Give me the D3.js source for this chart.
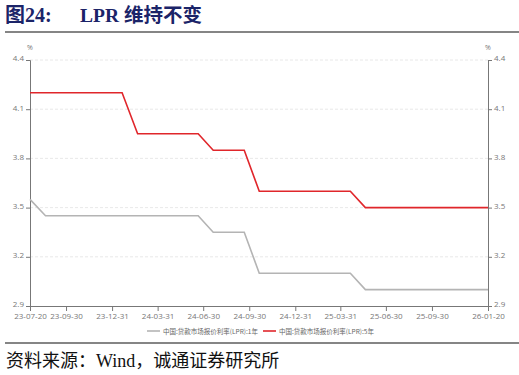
<!DOCTYPE html>
<html>
<head>
<meta charset="utf-8">
<script src="https://cdn.jsdelivr.net/npm/d3@7"></script>
<style>
  body { margin: 0; background: #fff; }
  svg { display: block; }
  .tick text { font-family: "Open Sans", "Noto Sans CJK SC", sans-serif; }
</style>
</head>
<body>
<svg id="chart" width="519" height="375"></svg>
<script>
// monthly fixing dates (20th) and LPR values
const dates = ["2023-07-20","2023-08-20","2023-09-20","2023-10-20","2023-11-20","2023-12-20",
  "2024-01-20","2024-02-20","2024-03-20","2024-04-20","2024-05-20","2024-06-20",
  "2024-07-20","2024-08-20","2024-09-20","2024-10-20","2024-11-20","2024-12-20",
  "2025-01-20","2025-02-20","2025-03-20","2025-04-20","2025-05-20","2025-06-20",
  "2025-07-20","2025-08-20","2025-09-20","2025-10-20","2025-11-20","2025-12-20","2026-01-20"];
const lpr1y = [3.55,3.45,3.45,3.45,3.45,3.45,3.45,3.45,3.45,3.45,3.45,3.45,
  3.35,3.35,3.35,3.10,3.10,3.10,3.10,3.10,3.10,3.10,3.00,3.00,3.00,3.00,3.00,3.00,3.00,3.00,3.00];
const lpr5y = [4.20,4.20,4.20,4.20,4.20,4.20,4.20,3.95,3.95,3.95,3.95,3.95,
  3.85,3.85,3.85,3.60,3.60,3.60,3.60,3.60,3.60,3.60,3.50,3.50,3.50,3.50,3.50,3.50,3.50,3.50,3.50];
const xTickLabels = ["2023-07-20","2023-09-30","2023-12-31","2024-03-31","2024-06-30","2024-09-30",
  "2024-12-31","2025-03-31","2025-06-30","2025-09-30","2026-01-20"];
const yTicks = [2.9, 3.2, 3.5, 3.8, 4.1, 4.4];
const seriesNames = ["中国:贷款市场报价利率(LPR):1年", "中国:贷款市场报价利率(LPR):5年"];
const seriesColors = ["#b4b4b4", "#e0262b"];

const parse = d3.timeParse("%Y-%m-%d");
const fmt = d3.timeFormat("%y-%m-%d");

const svg = d3.select("#chart");
const margin = { left: 30, right: 31, top: 60, bottom: 69 };
const W = 519, H = 375;

// title
svg.append("text").attr("x", 5).attr("y", 22)
  .attr("font-family", "'Liberation Serif', 'Noto Sans CJK SC', serif")
  .attr("font-weight", "bold").attr("font-size", 20).attr("fill", "#1b2468")
  .text("图24:");
svg.append("text").attr("x", 80).attr("y", 22)
  .attr("font-family", "'Liberation Serif', 'Noto Sans CJK SC', serif")
  .attr("font-weight", "bold").attr("font-size", 19.5).attr("fill", "#1b2468")
  .text("LPR 维持不变");
svg.append("line").attr("x1", 5).attr("x2", 519).attr("y1", 32).attr("y2", 32)
  .attr("stroke", "#858585").attr("stroke-width", 2);

// source
svg.append("line").attr("x1", 5).attr("x2", 519).attr("y1", 343).attr("y2", 343)
  .attr("stroke", "#858585").attr("stroke-width", 2);
svg.append("text").attr("x", 6).attr("y", 367)
  .attr("font-family", "'Liberation Serif', 'Noto Sans CJK SC', serif")
  .attr("font-size", 18).attr("fill", "#111")
  .text("资料来源：Wind，诚通证券研究所");

const x = d3.scaleTime()
  .domain([parse(dates[0]), parse(dates[dates.length - 1])])
  .range([margin.left, W - margin.right]);
const y = d3.scaleLinear().domain([2.9, 4.4]).range([H - margin.bottom, margin.top]);

// grid
svg.append("g").selectAll("line").data(yTicks.slice(1)).join("line")
  .attr("x1", margin.left).attr("x2", W - margin.right)
  .attr("y1", d => y(d)).attr("y2", d => y(d))
  .attr("stroke", "#e2e2e2").attr("stroke-dasharray", "3,2").attr("stroke-width", 0.8);

const minorY = d3.range(29, 45).map(d => d / 10);
function styleAxis(g) {
  g.select(".domain").attr("stroke", "#777");
  g.selectAll(".tick line").attr("stroke", "#777");
  g.selectAll(".tick text").attr("fill", "#777").attr("font-size", 8);
}

// left axis
const yl = svg.append("g").attr("transform", `translate(${margin.left},0)`);
yl.call(d3.axisLeft(y).tickValues(minorY).tickSize(4).tickFormat("")).call(styleAxis);
yl.call(d3.axisLeft(y).tickValues(yTicks).tickSize(4).tickFormat(d3.format(".1f")).tickPadding(2)).call(styleAxis);
yl.selectAll(".tick text").attr("dy", "0.1em");

// right axis
const yr = svg.append("g").attr("transform", `translate(${W - margin.right},0)`);
yr.call(d3.axisRight(y).tickValues(minorY).tickSize(4).tickFormat("")).call(styleAxis);
yr.call(d3.axisRight(y).tickValues(yTicks).tickSize(4).tickFormat(d3.format(".1f")).tickPadding(2)).call(styleAxis);
yr.selectAll(".tick text").attr("dy", "0.1em");

svg.append("text").attr("x", margin.left).attr("y", 50).attr("text-anchor", "middle")
  .attr("font-size", 7).attr("fill", "#777").attr("font-family", "'Open Sans', sans-serif").text("%");
svg.append("text").attr("x", W - margin.right).attr("y", 50).attr("text-anchor", "middle")
  .attr("font-size", 7).attr("fill", "#777").attr("font-family", "'Open Sans', sans-serif").text("%");

// x axis: month-end minor ticks, labelled quarter ends
const monthEnds = d3.timeMonth.range(parse("2023-08-01"), parse("2026-02-01")).map(d => d3.timeDay.offset(d, -1));
const xa = svg.append("g").attr("transform", `translate(0,${H - margin.bottom})`);
xa.call(d3.axisBottom(x).tickValues(monthEnds).tickSize(4).tickFormat("")).call(styleAxis);
xa.call(d3.axisBottom(x).tickValues(xTickLabels.map(parse)).tickSize(5).tickFormat(fmt).tickPadding(2)).call(styleAxis);

// lines
const line = d3.line().x((d, i) => x(parse(dates[i]))).y(d => y(d));
[lpr1y, lpr5y].forEach((s, k) => {
  svg.append("path").attr("d", line(s)).attr("fill", "none")
    .attr("stroke", seriesColors[k]).attr("stroke-width", 1.6);
});

// legend
const legX = [147, 263];
seriesNames.forEach((n, k) => {
  svg.append("line").attr("x1", legX[k]).attr("x2", legX[k] + 13).attr("y1", 331).attr("y2", 331)
    .attr("stroke", seriesColors[k]).attr("stroke-width", 1.6);
  svg.append("text").attr("x", legX[k] + 16).attr("y", 333.5)
    .attr("font-family", "'Noto Sans CJK SC', sans-serif").attr("font-size", 6.5).attr("fill", "#666")
    .text(n);
});
</script>
</body>
</html>
